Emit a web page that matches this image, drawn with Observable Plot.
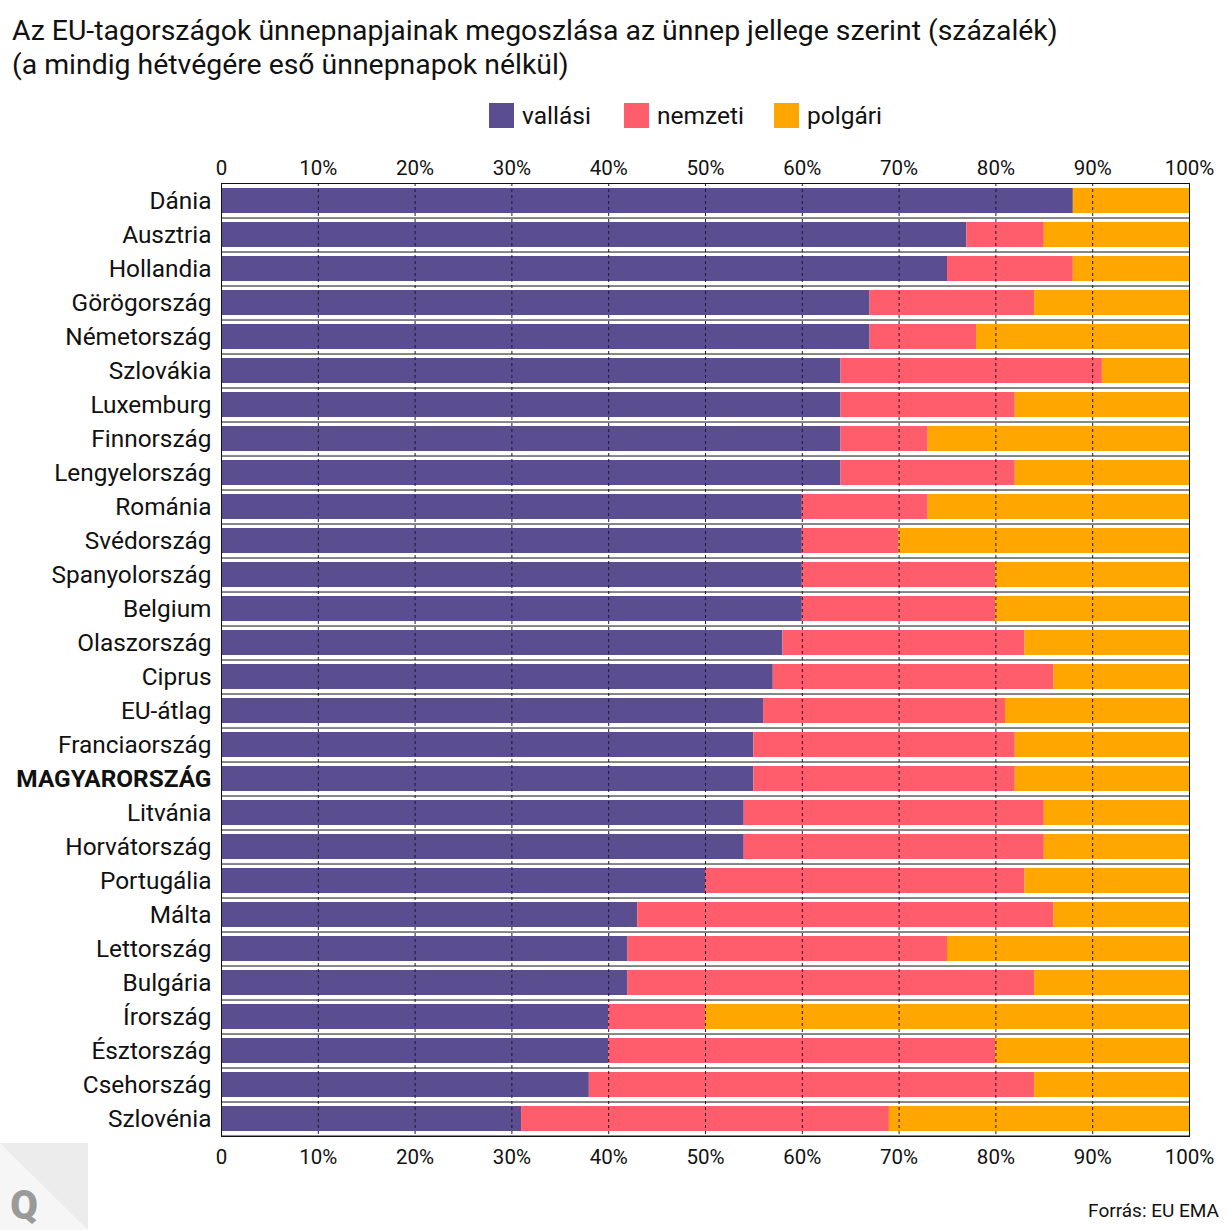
<!DOCTYPE html>
<html>
<head>
<meta charset="utf-8">
<script src="https://cdn.jsdelivr.net/npm/d3@7"></script>
<script src="https://cdn.jsdelivr.net/npm/@observablehq/plot@0.6"></script>
<style>
  body { margin: 0; background: #fff; font-family: Roboto, "Noto Sans", sans-serif; }
  #wrap { position: relative; width: 1230px; height: 1230px; overflow: hidden; }
  #title { position: absolute; left: 12px; top: 14px; font-size: 28.4px; line-height: 34px; color: #111; white-space: nowrap; }
  .li { position: absolute; top: 101px; display: flex; align-items: center; font-size: 24.5px; color: #111; }
  .sw { width: 25px; height: 25px; display: inline-block; margin-right: 8px; }
  #chart { position: absolute; left: 0; top: 140px; }
  #source { position: absolute; right: 11px; top: 1199px; font-size: 19px; color: #111; }
  #logo { position: absolute; left: 0; top: 1143px; }
</style>
</head>
<body>
<div id="wrap">
  <div id="title">Az EU-tagországok ünnepnapjainak megoszlása az ünnep jellege szerint (százalék)<br>(a mindig hétvégére eső ünnepnapok nélkül)</div>
  <div id="legend"></div>
  <div id="chart"></div>
  <div id="source">Forrás: EU EMA</div>
  <svg id="logo" width="88" height="87">
    <rect x="0" y="0" width="88" height="87" fill="#f6f6f6"/>
    <polygon points="0,0 88,0 88,87" fill="#ececec"/>
    <text x="24" y="76" text-anchor="middle" font-family="Roboto" font-weight="900" font-size="40" fill="#9a9a9a">Q</text>
  </svg>
</div>
<script>
const countries = ["Dánia","Ausztria","Hollandia","Görögország","Németország","Szlovákia","Luxemburg","Finnország","Lengyelország","Románia","Svédország","Spanyolország","Belgium","Olaszország","Ciprus","EU-átlag","Franciaország","MAGYARORSZÁG","Litvánia","Horvátország","Portugália","Málta","Lettország","Bulgária","Írország","Észtország","Csehország","Szlovénia"];
const vallasi = [88,77,75,67,67,64,64,64,64,60,60,60,60,58,57,56,55,55,54,54,50,43,42,42,40,40,38,31];
const nemzeti = [0,8,13,17,11,27,18,9,18,13,10,20,20,25,29,25,27,27,31,31,33,43,33,42,10,40,46,38];
const polgari = [12,15,12,16,22,9,18,27,18,27,30,20,20,17,14,19,18,18,15,15,17,14,25,16,50,20,16,31];
const categories = ["vallási","nemzeti","polgári"];
const colors = ["#5a4e90","#ff5d6c","#ffa600"];
const gridTicks = [10,20,30,40,50,60,70,80,90];
const axisTicks = [0,10,20,30,40,50,60,70,80,90,100];

const series = [vallasi, nemzeti, polgari];
const data = [];
countries.forEach((c, i) => categories.forEach((k, j) => data.push({country: c, cat: k, value: series[j][i]})));

// legend
const leg = document.getElementById("legend");
const legLeft = [489, 624, 774];
categories.forEach((k, j) => {
  const d = document.createElement("div");
  d.className = "li";
  d.style.left = legLeft[j] + "px";
  d.innerHTML = `<span class="sw" style="background:${colors[j]}"></span><span>${k}</span>`;
  leg.appendChild(d);
});

const marginTop = 43, marginBottom = 42, innerH = 953;
const step = innerH / countries.length;
const fmt = d => d === 0 ? "0" : d + "%";

const chart = Plot.plot({
  width: 1230,
  height: marginTop + innerH + marginBottom,
  marginLeft: 221,
  marginRight: 41,
  marginTop,
  marginBottom,
  style: { fontFamily: "Roboto, sans-serif", fontSize: "20px", color: "#111", background: "transparent", overflow: "visible" },
  x: { domain: [0, 100], ticks: axisTicks, tickFormat: fmt, label: null },
  y: { domain: countries, paddingInner: 0.26, paddingOuter: 0.13, label: null },
  color: { domain: categories, range: colors },
  marks: [
    Plot.barX(data, Plot.stackX({ y: "country", x: "value", fill: "cat", order: null })),
    Plot.ruleX(gridTicks, { stroke: "#1a1a2e", strokeWidth: 1, strokeDasharray: "3,3" }),
    Plot.ruleY(countries, { y: d => d, dy: step / 2, stroke: "#111", strokeWidth: 1 }),
    Plot.frame({ stroke: "#111", strokeWidth: 1 }),
    Plot.axisX({ anchor: "top", ticks: axisTicks, tickFormat: fmt, tickSize: 0, tickPadding: 9, fontSize: 20.5 }),
    Plot.axisX({ anchor: "bottom", ticks: axisTicks, tickFormat: fmt, tickSize: 0, tickPadding: 13, fontSize: 20.5 }),
    Plot.axisY({ tickSize: 0, tickPadding: 10, fontSize: 24.4 })
  ]
});
document.getElementById("chart").appendChild(chart);
d3.select(chart).selectAll("text").filter(function () { return this.textContent === "MAGYARORSZÁG"; }).attr("font-weight", "bold");
</script>
</body>
</html>
